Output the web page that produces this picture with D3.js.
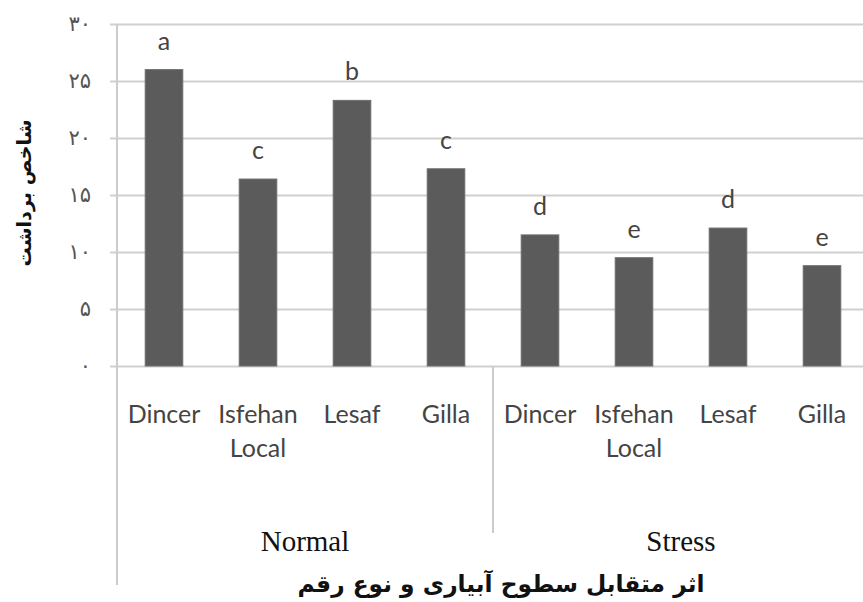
<!DOCTYPE html>
<html>
<head>
<meta charset="utf-8">
<script src="https://cdn.jsdelivr.net/npm/d3@7"></script>
<style>
  body { margin: 0; background: #fff; }
  svg { display: block; }
</style>
</head>
<body>
<div id="canvas"></div>
<script>
var groups = ['Normal', 'Stress'];
var varieties = ['Dincer', 'Isfehan Local', 'Lesaf', 'Gilla'];
var normalValues = [26.0, 16.4, 23.3, 17.3];
var stressValues = [11.5, 9.5, 12.1, 8.8];
var normalLetters = ['a', 'c', 'b', 'c'];
var stressLetters = ['d', 'e', 'd', 'e'];
var tickValues = [0, 5, 10, 15, 20, 25, 30];
var tickLabels = ['۰', '۵', '۱۰', '۱۵', '۲۰', '۲۵', '۳۰'];
var yTitle = 'شاخص برداشت';
var xTitle = 'اثر متقابل سطوح آبیاری و نوع رقم';

var W = 863, H = 602;
var m = {t: 24, l: 117, b: 236};

// flatten into rows for the band scale
var rows = [];
groups.forEach(function(g, gi) {
  var vals = gi === 0 ? normalValues : stressValues;
  var lets = gi === 0 ? normalLetters : stressLetters;
  varieties.forEach(function(v, vi) {
    rows.push({key: g + '|' + v, group: g, name: v, value: vals[vi], letter: lets[vi]});
  });
});

var x = d3.scaleBand()
    .domain(rows.map(function(d) { return d.key; }))
    .range([m.l, m.l + 752])
    .paddingInner(0.6)
    .paddingOuter(0.3);

var y = d3.scaleLinear().domain([0, 30]).range([H - m.b, m.t]);

var svg = d3.select('#canvas').append('svg')
    .attr('width', W).attr('height', H);

// gridlines + tick labels
var yAxis = svg.append('g')
    .attr('transform', 'translate(110,0)')
    .call(d3.axisLeft(y)
      .tickValues(tickValues)
      .tickFormat(function(d, i) { return tickLabels[i]; })
      .tickSize(-760)
      .tickPadding(19));
yAxis.select('.domain').remove();
yAxis.selectAll('line').attr('stroke', '#d0d0d0').attr('stroke-width', 2);
yAxis.selectAll('text')
    .attr('font-family', 'DejaVu Sans')
    .attr('font-size', 21)
    .attr('fill', '#555');

// vertical axis line and group separators
var step = x.step();
svg.append('line')
    .attr('x1', m.l).attr('x2', m.l)
    .attr('y1', y(30)).attr('y2', 585)
    .attr('stroke', '#cccccc').attr('stroke-width', 2);
svg.append('line')
    .attr('x1', m.l + step * 4).attr('x2', m.l + step * 4)
    .attr('y1', y(0)).attr('y2', 533)
    .attr('stroke', '#cccccc').attr('stroke-width', 2);

// bars
svg.selectAll('.bar')
    .data(rows)
    .enter().append('rect')
    .attr('class', 'bar')
    .attr('x', function(d) { return x(d.key); })
    .attr('width', x.bandwidth())
    .attr('y', function(d) { return y(d.value); })
    .attr('height', function(d) { return y(0) - y(d.value); })
    .attr('fill', '#5b5b5b')
    .attr('stroke', '#6e6e6e')
    .attr('stroke-width', 1);

// significance letters
svg.selectAll('.letter')
    .data(rows)
    .enter().append('text')
    .attr('class', 'letter')
    .attr('x', function(d) { return x(d.key) + x.bandwidth() / 2; })
    .attr('y', function(d) { return y(d.value) - 20; })
    .attr('text-anchor', 'middle')
    .attr('font-family', 'Lato')
    .attr('font-size', 25)
    .attr('fill', '#444')
    .text(function(d) { return d.letter; });

// variety labels (wrap on space for two-word names)
var lab = svg.selectAll('.vlab')
    .data(rows)
    .enter().append('text')
    .attr('class', 'vlab')
    .attr('text-anchor', 'middle')
    .attr('font-family', 'Lato')
    .attr('font-size', 25)
    .attr('fill', '#444');
lab.each(function(d) {
  var t = d3.select(this);
  d.name.split(' ').forEach(function(w, i) {
    t.append('tspan')
      .attr('x', x(d.key) + x.bandwidth() / 2)
      .attr('y', 423 + i * 34)
      .text(w);
  });
});

// group labels
svg.selectAll('.glab')
    .data(groups)
    .enter().append('text')
    .attr('class', 'glab')
    .attr('x', function(g, i) { return m.l + step * (i * 4 + 2); })
    .attr('y', 551)
    .attr('text-anchor', 'middle')
    .attr('font-family', 'Liberation Serif')
    .attr('font-size', 29)
    .attr('fill', '#111')
    .text(function(g) { return g; });

// x title (bold, fitted to the reference width)
var xt = svg.append('text')
    .attr('x', 501).attr('y', 592)
    .attr('text-anchor', 'middle')
    .attr('direction', 'rtl')
    .attr('font-family', 'DejaVu Sans')
    .attr('font-weight', 'bold')
    .attr('font-size', 20)
    .attr('fill', '#111')
    .text(xTitle);
var xl = xt.node().getComputedTextLength();
xt.attr('font-size', 20 * 407 / xl);

// y title
var yt = svg.append('text')
    .attr('transform', 'translate(31,193) rotate(-90)')
    .attr('text-anchor', 'middle')
    .attr('direction', 'rtl')
    .attr('font-family', 'DejaVu Sans')
    .attr('font-weight', 'bold')
    .attr('font-size', 18)
    .attr('fill', '#111')
    .text(yTitle);
var yl = yt.node().getComputedTextLength();
yt.attr('font-size', 18 * 147 / yl);
</script>
</body>
</html>
